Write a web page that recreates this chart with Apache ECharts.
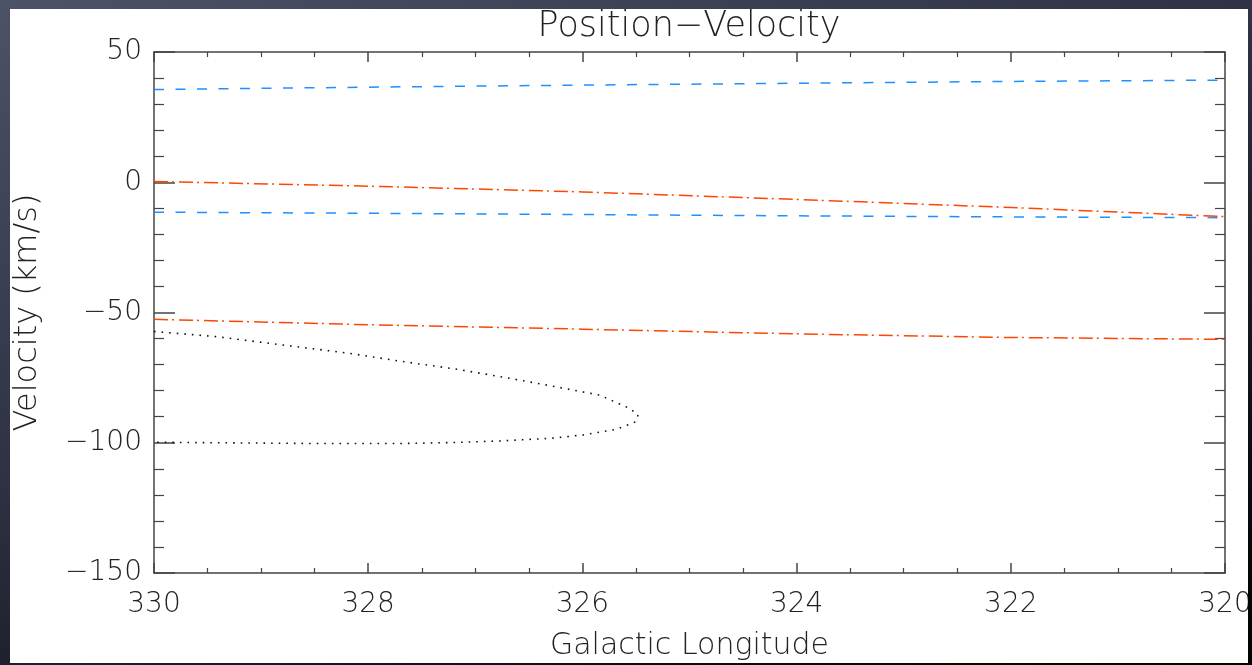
<!DOCTYPE html>
<html>
<head>
<meta charset="utf-8">
<script src="https://cdn.jsdelivr.net/npm/echarts@6/dist/echarts.min.js"></script>
<style>
  html, body { margin: 0; padding: 0; width: 1252px; height: 665px; overflow: hidden;
    background: linear-gradient(160deg, #4c5268 0%, #2c3040 45%, #0c0d12 80%, #000000 100%); }
  #chart { position: absolute; left: 10px; top: 9px; width: 1238px; height: 654px; background: #ffffff; }
</style>
</head>
<body>
<div id="chart"></div>
<script>
// Galactic longitude (deg) and velocity (km/s)
const blueUpperL = [330, 328, 326, 324, 322, 320];
const blueUpperV = [35.6, 36.5, 37.3, 38.0, 38.7, 39.2];
const blueLowerL = [330, 328, 326, 324, 322, 320];
const blueLowerV = [-11.5, -11.9, -12.4, -12.9, -13.3, -13.6];
const redUpperL = [330, 328, 326, 324, 322, 320];
const redUpperV = [0.3, -1.5, -3.7, -6.6, -9.7, -13.2];
const redLowerL = [330, 328, 326, 324, 322, 320];
const redLowerV = [-52.6, -54.7, -56.4, -58.2, -59.6, -60.3];
const dotL = [330, 329.41, 328.79, 328.17, 327.70, 327.2, 326.77, 326.3, 325.84, 325.56, 325.48, 325.50, 325.68, 325.99, 326.30, 326.77, 327.2, 327.7, 328.5, 329.4, 330];
const dotV = [-57.3, -59.3, -62.5, -65.7, -68.7, -71.6, -74.6, -78.1, -81.7, -86.8, -89.3, -91.9, -94.8, -97.0, -98.3, -99.3, -99.9, -100.3, -100.3, -100.0, -99.8];
const xTicks = [320, 322, 324, 326, 328, 330];
const yTicks = [-150, -100, -50, 0, 50];

const pairs = (l, v) => l.map((x, i) => [x, v[i]]);
const FONT = '"DejaVu Sans", sans-serif';
const FW = 200;
const axisColor = '#444';

function xAxisDef(pos, labels) {
  return {
    type: 'value', position: pos, inverse: true,
    min: xTicks[0], max: xTicks[xTicks.length - 1], interval: 2,
    axisLine: { show: true, onZero: false, lineStyle: { color: axisColor, width: 1.5 } },
    axisTick: { show: true, inside: true, length: 10, lineStyle: { color: axisColor, width: 1.5 } },
    minorTick: { show: true, splitNumber: 4, length: 5, lineStyle: { color: axisColor, width: 1.2 } },
    splitLine: { show: false },
    axisLabel: { show: labels, margin: 18, color: '#222', fontSize: 28, fontWeight: FW, fontFamily: FONT },
    name: labels ? 'Galactic Longitude' : '', nameLocation: 'middle', nameGap: 58,
    nameTextStyle: { color: '#222', fontSize: 30, fontWeight: FW, fontFamily: FONT }
  };
}
function yAxisDef(pos, labels) {
  return {
    type: 'value', position: pos,
    min: yTicks[0], max: yTicks[yTicks.length - 1], interval: 50,
    axisLine: { show: true, onZero: false, lineStyle: { color: axisColor, width: 1.5 } },
    axisTick: { show: true, inside: true, length: 21, lineStyle: { color: axisColor, width: 1.5 } },
    minorTick: { show: true, splitNumber: 5, length: 10, lineStyle: { color: axisColor, width: 1.2 } },
    splitLine: { show: false },
    axisLabel: { show: labels, margin: 12, color: '#222', fontSize: 28, fontWeight: FW, fontFamily: FONT,
      formatter: v => (v < 0 ? '\u2212' + Math.abs(v) : String(v)) },
    name: labels ? 'Velocity (km/s)' : '', nameLocation: 'middle', nameGap: 110, nameRotate: 90,
    nameTextStyle: { color: '#222', fontSize: 32, fontWeight: FW, fontFamily: FONT }
  };
}
function lineSeries(data, color, dash, width) {
  return {
    type: 'line', data: data, showSymbol: false, symbol: 'none', smooth: false,
    xAxisIndex: 0, yAxisIndex: 0, silent: true, animation: false,
    lineStyle: { color: color, width: width, type: dash }
  };
}

const chart = echarts.init(document.getElementById('chart'), null, { renderer: 'canvas' });
chart.setOption({
  animation: false,
  backgroundColor: '#ffffff',
  title: {
    text: 'Position\u2212Velocity', left: 689 - 10, textAlign: 'center', top: 0, padding: 0,
    textStyle: { color: '#222', fontSize: 35, fontWeight: FW, fontFamily: FONT }
  },
  grid: { left: 144, top: 43, right: 23, bottom: 90, containLabel: false, outerBoundsMode: 'none' },
  xAxis: [xAxisDef('bottom', true), xAxisDef('top', false)],
  yAxis: [yAxisDef('left', true), yAxisDef('right', false)],
  series: [
    lineSeries(pairs(blueUpperL, blueUpperV), '#1E90FF', [10, 11.5], 1.5),
    lineSeries(pairs(blueLowerL, blueLowerV), '#1E90FF', [10, 11.5], 1.5),
    lineSeries(pairs(redUpperL, redUpperV), '#FF4500', [14, 4, 2, 5], 1.5),
    lineSeries(pairs(redLowerL, redLowerV), '#FF4500', [14, 4, 2, 5], 1.5),
    lineSeries(pairs(dotL, dotV), '#111111', [1.6, 6], 1.6)
  ]
});
</script>
</body>
</html>
